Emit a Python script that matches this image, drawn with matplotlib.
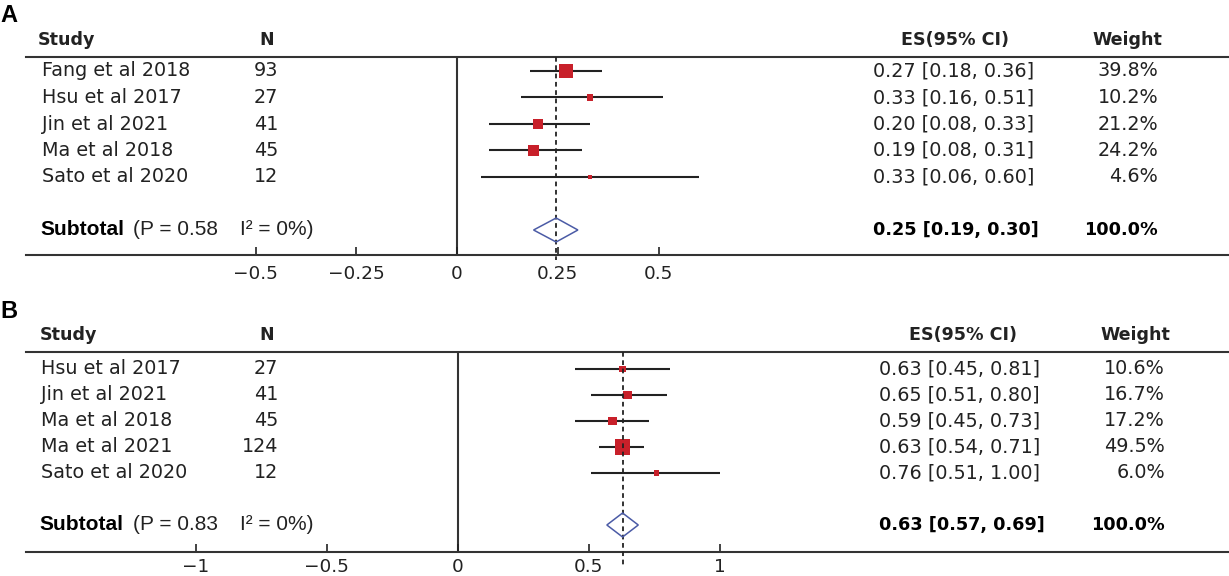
import numpy as np
import matplotlib
matplotlib.use("Agg")
import matplotlib.pyplot as plt
from matplotlib import transforms

# Panel A data
studies_a = ["Fang et al 2018", "Hsu et al 2017", "Jin et al 2021", "Ma et al 2018", "Sato et al 2020"]
n_a = [93, 27, 41, 45, 12]
es_a = [0.27, 0.33, 0.20, 0.19, 0.33]
lo_a = [0.18, 0.16, 0.08, 0.08, 0.06]
hi_a = [0.36, 0.51, 0.33, 0.31, 0.60]
w_a = [39.8, 10.2, 21.2, 24.2, 4.6]
pooled_a = [0.246, 0.19, 0.30]
p_a = 0.58
ticks_a = [-0.5, -0.25, 0, 0.25, 0.5]
ticklabels_a = ["\u22120.5", "\u22120.25", "0", "0.25", "0.5"]

# Panel B data
studies_b = ["Hsu et al 2017", "Jin et al 2021", "Ma et al 2018", "Ma et al 2021", "Sato et al 2020"]
n_b = [27, 41, 45, 124, 12]
es_b = [0.63, 0.65, 0.59, 0.63, 0.76]
lo_b = [0.45, 0.51, 0.45, 0.54, 0.51]
hi_b = [0.81, 0.80, 0.73, 0.71, 1.00]
w_b = [10.6, 16.7, 17.2, 49.5, 6.0]
pooled_b = [0.63, 0.57, 0.69]
p_b = 0.83
ticks_b = [-1, -0.5, 0, 0.5, 1]
ticklabels_b = ["\u22121", "\u22120.5", "0", "0.5", "1"]

W, H = 1229, 576
fig = plt.figure(figsize=(W / 100, H / 100), dpi=100)

RED = "#c8202a"
BLUE = "#4b5ba6"
DARK = "#222222"


def fx(px):
    return px / W


def panel(top_px, bot_px, row1_px, step, zero_px, scale, studies, n, es, lo, hi, w,
          pooled, p, ticks, ticklabels, cols, pad, dash_ext):
    ax = fig.add_axes([fx(26), 1 - bot_px / H, fx(W - 26), (bot_px - top_px) / H])
    ax.set_xlim((26 - zero_px) / scale, (W - zero_px) / scale)
    ytop = 1 - (row1_px - top_px) / step
    ybot = 1 + (bot_px - row1_px) / step
    ax.set_ylim(ybot, ytop)
    for s in ["left", "right"]:
        ax.spines[s].set_visible(False)
    for s in ["top", "bottom"]:
        ax.spines[s].set_color("#333333")
        ax.spines[s].set_linewidth(1.5)
    ax.set_yticks([])
    ax.set_xticks(ticks)
    ax.set_xticklabels(ticklabels)
    ax.tick_params(axis="x", direction="in", length=6, width=1.2, pad=pad,
                   labelsize=13.3, colors=DARK)

    rows = np.arange(1, len(studies) + 1)
    sub_row = len(studies) + 2

    ax.axvline(0, color="#333333", lw=1.5, zorder=1)
    ax.hlines(rows, lo, hi, color=DARK, lw=1.5, zorder=2)
    side_pt = np.maximum(2.15 * np.sqrt(w), 4.5) * 0.72
    ax.scatter(es, rows, marker="s", s=side_pt ** 2, color=RED, lw=0, zorder=3)

    # pooled estimate
    ax.plot([pooled[0], pooled[0]], [ytop, ybot + dash_ext / step], color=DARK,
            lw=1.3, dashes=(2.6, 2.0), clip_on=False, zorder=4)
    hh = 12 / step
    ax.fill([pooled[1], pooled[0], pooled[2], pooled[0]],
            [sub_row, sub_row - hh, sub_row, sub_row + hh],
            facecolor="none", edgecolor=BLUE, lw=1.1, zorder=5)

    tr = transforms.blended_transform_factory(fig.transFigure, ax.transData)
    hdr_y = 1 - (row1_px - top_px + 17) / step
    hkw = dict(transform=tr, fontsize=12.6, fontweight="bold", color=DARK, va="center")
    ax.text(fx(cols["study_h"]), hdr_y, "Study", ha="left", **hkw)
    ax.text(fx(267), hdr_y, "N", ha="center", **hkw)
    ax.text(fx(cols["es_h"]), hdr_y, "ES(95% CI)", ha="center", **hkw)
    ax.text(fx(cols["w_h"]), hdr_y, "Weight", ha="center", **hkw)

    rkw = dict(transform=tr, fontsize=13.8, color=DARK, va="center")
    for i, r in enumerate(rows):
        ax.text(fx(cols["study"]), r, studies[i], ha="left", **rkw)
        ax.text(fx(278), r, str(n[i]), ha="right", **rkw)
        ax.text(fx(cols["es"]), r, f"{es[i]:.2f} [{lo[i]:.2f}, {hi[i]:.2f}]", ha="left", **rkw)
        ax.text(fx(cols["w"]), r, f"{w[i]:.1f}%", ha="right", **rkw)

    ax.text(fx(cols["study"] - 2), sub_row, "Subtotal", ha="left", fontsize=15,
            fontweight="bold", family="Liberation Sans", transform=tr, va="center", color="black")
    ax.text(fx(133), sub_row, f"(P = {p:.2f}", ha="left", fontsize=15,
            family="Liberation Sans", transform=tr, va="center", color=DARK)
    ax.text(fx(240), sub_row, "I\u00b2 = 0%)", ha="left", fontsize=15,
            family="Liberation Sans", transform=tr, va="center", color=DARK)
    bkw = dict(transform=tr, fontsize=12.7, fontweight="bold", color="black", va="center")
    ax.text(fx(cols["es"]), sub_row, f"{pooled[0]:.2f} [{pooled[1]:.2f}, {pooled[2]:.2f}]",
            ha="left", **bkw)
    ax.text(fx(cols["w"]), sub_row, "100.0%", ha="right", **bkw)
    return ax


cols_a = dict(study=42, study_h=38, es=873, es_h=955, w=1158, w_h=1127)
cols_b = dict(study=41, study_h=40, es=879, es_h=963, w=1165, w_h=1135)

panel(57, 255, 71, 26.5, 457, 403, studies_a, n_a, es_a, lo_a, hi_a, w_a,
      pooled_a, p_a, ticks_a, ticklabels_a, cols_a, 7, 5)
panel(352, 552, 369, 26, 457.5, 262, studies_b, n_b, es_b, lo_b, hi_b, w_b,
      pooled_b, p_b, ticks_b, ticklabels_b, cols_b, 4, 14)

fig.text(0, 1 - 15.5 / H, "A", fontsize=17, fontweight="bold", family="Liberation Sans",
         ha="left", va="center")
fig.text(0, 1 - 311 / H, "B", fontsize=17, fontweight="bold", family="Liberation Sans",
         ha="left", va="center")

fig.savefig("out.png", dpi=100)
